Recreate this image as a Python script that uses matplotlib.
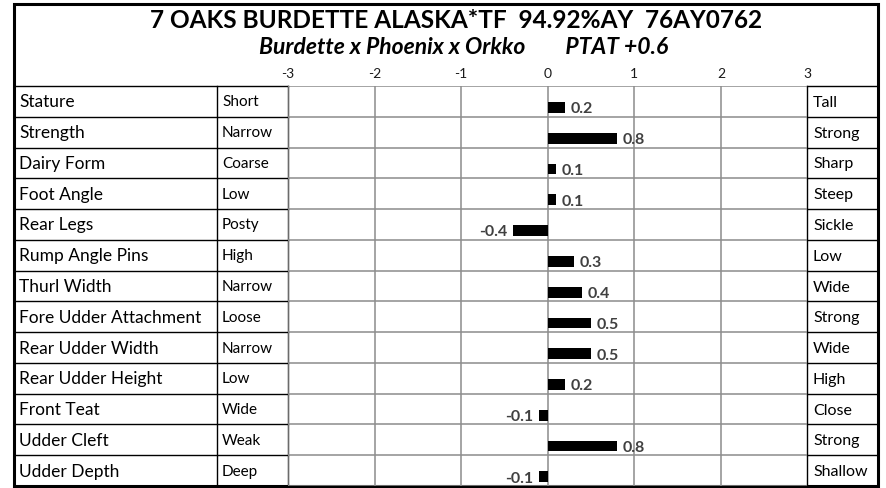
import numpy as np
import matplotlib.pyplot as plt
from matplotlib.patches import Rectangle

plt.rcParams['font.family'] = ['Lato', 'DejaVu Sans']

title = "7 OAKS BURDETTE ALASKA*TF  94.92%AY  76AY0762"
subtitle = "Burdette x Phoenix x Orkko        PTAT +0.6"
traits = ["Stature", "Strength", "Dairy Form", "Foot Angle", "Rear Legs",
          "Rump Angle Pins", "Thurl Width", "Fore Udder Attachment",
          "Rear Udder Width", "Rear Udder Height", "Front Teat",
          "Udder Cleft", "Udder Depth"]
low_end = ["Short", "Narrow", "Coarse", "Low", "Posty", "High", "Narrow",
           "Loose", "Narrow", "Low", "Wide", "Weak", "Deep"]
high_end = ["Tall", "Strong", "Sharp", "Steep", "Sickle", "Low", "Wide",
            "Strong", "Wide", "High", "Close", "Strong", "Shallow"]
values = [0.2, 0.8, 0.1, 0.1, -0.4, 0.3, 0.4, 0.5, 0.5, 0.2, -0.1, 0.8, -0.1]
ticks = [-3, -2, -1, 0, 1, 2, 3]

W, H = 886, 488
fig = plt.figure(figsize=(W / 100, H / 100), dpi=100)

# layout in pixels
x_out0, x_out1 = 14, 878
y_out0, y_out1 = 4, 486
x_c1, x_c2 = 217, 288      # column borders left table
x_r = 807.5                # right column start
y_top = 86
n = len(traits)
rh = (y_out1 - y_top) / n

# background axes in pixel coordinates
bg = fig.add_axes([0, 0, 1, 1])
bg.set_xlim(0, W)
bg.set_ylim(H, 0)
bg.axis('off')

# chart axes
ax = fig.add_axes([x_c2 / W, (H - y_out1) / H, (x_r - x_c2) / W, (y_out1 - y_top) / H])
ax.set_xlim(ticks[0], ticks[-1])
ax.set_ylim(n - 0.5, -0.5)
pos = np.arange(n)
ax.barh(pos + 0.2, values, height=0.35, color='black', zorder=3)
for i, v in enumerate(values):
    if v >= 0:
        ax.annotate(f"{v:g}", (v, i + 0.26), xytext=(4, 0), textcoords='offset points',
                    ha='left', va='center', fontsize=11.5, fontweight='bold', color='#404040')
    else:
        ax.annotate(f"{v:g}", (v, i + 0.26), xytext=(-4, 0), textcoords='offset points',
                    ha='right', va='center', fontsize=11.5, fontweight='bold', color='#404040')
ax.set_xticks(ticks)
ax.set_yticks(np.arange(n + 1) - 0.5)
ax.grid(True, color='#8c8c8c', linewidth=1.1, zorder=0)
ax.tick_params(axis='both', length=0)
ax.set_yticklabels([])
ax.xaxis.tick_top()
ax.set_xticklabels([str(t) for t in ticks], fontsize=10, color='#1a1a1a')
ax.tick_params(axis='x', pad=4)
for s in ax.spines.values():
    s.set_visible(False)
ax.patch.set_alpha(0)

# table lines
lw = 1.0
for i in range(n + 1):
    y = y_top + i * rh
    bg.plot([x_out0, x_c2], [y, y], color='black', lw=lw)
    bg.plot([x_r, x_out1], [y, y], color='black', lw=lw)
for x in (x_c1, x_c2, x_r):
    bg.plot([x, x], [y_top, y_out1], color='black', lw=lw)

for i in range(n):
    yc = y_top + (i + 0.5) * rh
    bg.text(19, yc + 6, traits[i], fontsize=12.5, ha='left', va='baseline', color='black')
    bg.text(222, yc + 5, low_end[i], fontsize=11, ha='left', va='baseline', color='black')
    bg.text(813, yc + 5.5, high_end[i], fontsize=11.5, ha='left', va='baseline', color='black')

bg.add_patch(Rectangle((x_out0, y_out0), x_out1 - x_out0, y_out1 - y_out0,
                       fill=False, edgecolor='black', lw=2.2, zorder=5))

bg.text(456, 21, title, fontsize=17.6, fontweight='bold', ha='center', va='center')
bg.text(464, 47, subtitle, fontsize=16.5, fontweight='bold', style='italic',
        ha='center', va='center')

fig.savefig('out.png', dpi=100)
